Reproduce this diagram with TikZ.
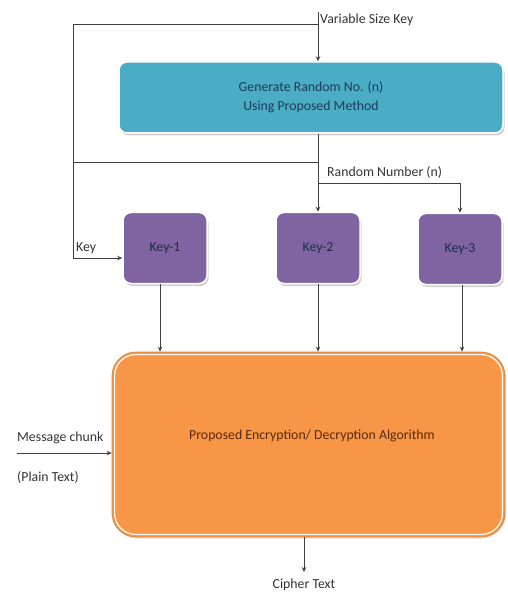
\documentclass[tikz,border=0pt]{standalone}
\usepackage{fontspec}
\setmainfont{Carlito}
\usetikzlibrary{arrows.meta,shadows}
\definecolor{aqua}{HTML}{4BACC6}
\definecolor{purp}{HTML}{8064A2}
\definecolor{orng}{HTML}{F79646}
\definecolor{navy}{HTML}{1F3A5A}
\definecolor{brn}{HTML}{5A2A0A}
\definecolor{ln}{HTML}{404040}
\begin{document}
\begin{tikzpicture}[x=1pt,y=-1pt,
  font=\fontsize{13.8}{16}\selectfont,
  conn/.style={draw=ln,line width=0.8pt},
  arr/.style={conn,-{Stealth[length=5pt,width=4.5pt]}},
  sbox/.style={rectangle,rounded corners=8pt,draw=white,line width=1.5pt,
    drop shadow={shadow xshift=1.5pt,shadow yshift=-2.5pt,fill=black!30,opacity=0.6}},
  keybox/.style={sbox,fill=purp,minimum width=84pt,minimum height=71pt,text=navy!80!black,inner sep=0pt},
  lbl/.style={inner sep=0pt,text=black!80}]
\useasboundingbox (0,0) rectangle (507,593);
\node[sbox,fill=aqua,minimum width=384pt,minimum height=71pt,align=center,text=navy,inner sep=0pt]
  (gen) at (311,97.5) {Generate Random No. (n)\\[3pt]Using Proposed Method};
\node[keybox] (k1) at (165,248) {Key-1};
\node[keybox] (k2) at (318,248) {Key-2};
\node[keybox] (k3) at (460,249) {Key-3};
\node[rectangle,rounded corners=24pt,fill=orng,draw=orng!90!black,line width=0.8pt,
  minimum width=393pt,minimum height=185pt,inner sep=0pt,
  drop shadow={shadow xshift=1pt,shadow yshift=-1.5pt,fill=black!25,opacity=0.5}]
  (alg) at (308.5,444.5) {};
\draw[white,line width=1.2pt,rounded corners=21pt]
  ([xshift=3pt,yshift=-3pt]alg.north west) rectangle ([xshift=-3pt,yshift=3pt]alg.south east);
\node[text=brn] (algt) at (312,436) {Proposed Encryption/ Decryption Algorithm};
% labels
\coordinate (vtop) at (318,12);
\node[lbl,anchor=west] (vsk) at (320,20) {Variable Size Key};
\node[lbl,anchor=west] (rn) at (327,172) {Random Number (n)};
\node[lbl,anchor=west] (key) at (76,248) {Key};
\node[lbl,anchor=west] (msg) at (17,438) {Message chunk};
\node[lbl,anchor=west] (pt) at (17,477) {(Plain Text)};
\node[lbl] (ct) at (304,585) {Cipher Text};
% coordinates
\coordinate (tl) at (73,24);
\coordinate (tj) at (318,24);
\coordinate (ml) at (73,162);
\coordinate (mj) at (318,162);
\coordinate (bj) at (318,183);
\coordinate (br) at (460,183);
\coordinate (kl) at (73,258);
\coordinate (min) at (17,453);
\coordinate (cout) at (304,572);
% connectors
\draw[arr] (vtop) -- (vtop |- gen.north);
\draw[conn] (tj) -- (tl) -- (kl);
\draw[arr] (kl) -- (kl -| k1.west);
\draw[conn] (gen.south -| mj) -- (mj) -- (ml);
\draw[arr] (mj) -- (k2.north);
\draw[conn] (bj) -- (br);
\draw[arr] (br) -- (k3.north);
\draw[arr] ([xshift=-5pt]k1.south) -- ([xshift=-5pt]k1.south |- alg.north);
\draw[arr] (k2.south) -- (k2.south |- alg.north);
\draw[arr] ([xshift=2pt]k3.south) -- ([xshift=2pt]k3.south |- alg.north);
\draw[arr] (min) -- (min -| alg.west);
\draw[arr] (alg.south -| cout) -- (cout);
\end{tikzpicture}
\end{document}
